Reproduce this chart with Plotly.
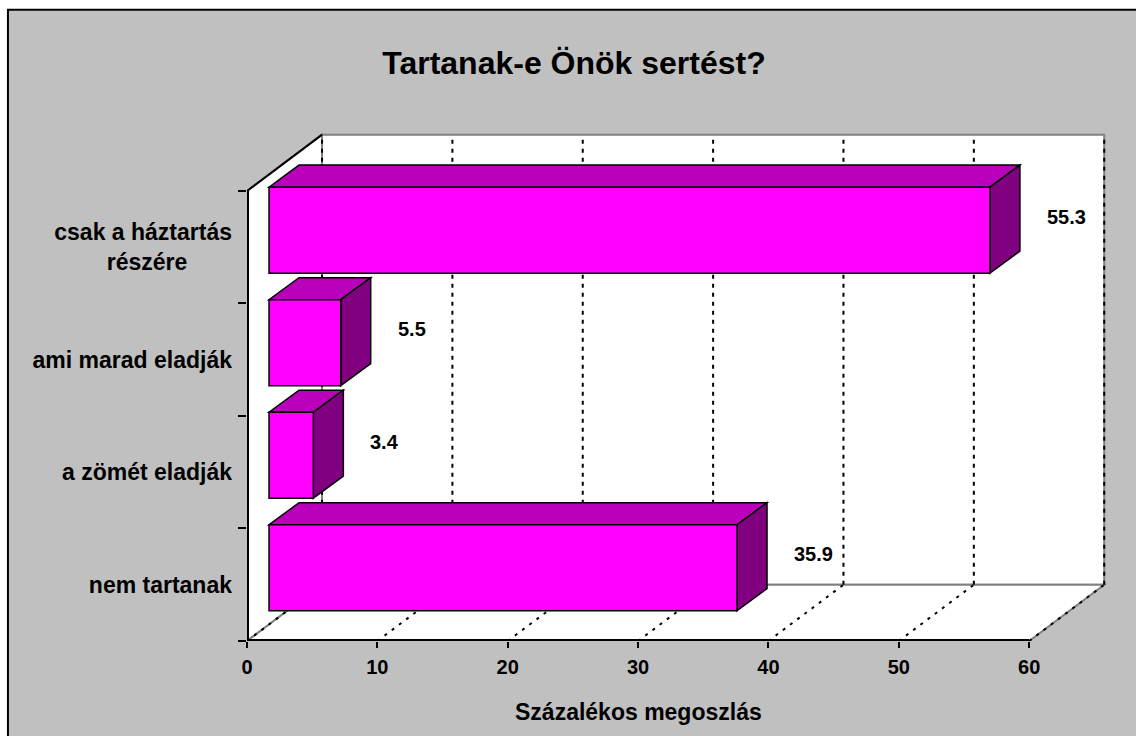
import plotly.graph_objects as go

# ---------------- data ----------------
categories = ["nem tartanak", "a zömét eladják", "ami marad eladják", "csak a háztartás részére"]
tick_labels = ["nem tartanak", "a zömét eladják", "ami marad eladják",
               "csak a háztartás<br>részére" + "\u00a0" * 7]
values = [35.9, 3.4, 5.5, 55.3]
x_ticks = [0, 10, 20, 30, 40, 50, 60]
title_text = "Tartanak-e Önök sertést?"
x_title = "Százalékos megoszlás"

# ---------------- pseudo-3D geometry (data units) ----------------
X_MAX = 60
WALL_DX, WALL_DY = 5.755, 0.5          # depth of the walls
BAR_BASE = 1.69                         # front face of bars sits forward of the wall
BAR_OFF, BAR_W = -0.231, 0.764          # bar position inside category band
BAR_DX, BAR_DY = 2.30, 0.196            # depth of the bar boxes
LABEL_GAP, LABEL_DY = 4.22, 0.27

X_RANGE = [0, 66.2]
Y_RANGE = [-0.5, 4.05]

# pixel layout
PX_X = 782 / 60.0
PX_Y = 112.5
L = 247
B = 95
W = (X_RANGE[1] - X_RANGE[0]) * PX_X
H = (Y_RANGE[1] - Y_RANGE[0]) * PX_Y
R = 1136 - L - W
T = 736 - B - H

def px2paper_x(p):
    return (p - L) / W

def px2paper_y(p):
    return (736 - B - p) / H

FONT = "Liberation Sans, Arial, sans-serif"
GRAY = "#808080"
n = len(categories)
y_pos = list(range(n))

shapes = []

# chart area background with border
shapes.append(dict(type="rect", xref="paper", yref="paper", layer="below",
                   x0=px2paper_x(8), x1=px2paper_x(1145), y0=px2paper_y(745), y1=px2paper_y(10),
                   fillcolor="#C0C0C0", line=dict(color="black", width=2)))

y_lo, y_hi = -0.5, n - 0.5

def path(pts):
    return "M " + " L ".join(f"{x},{y}" for x, y in pts) + " Z"

# back wall
shapes.append(dict(type="rect", xref="x", yref="y", layer="below",
                   x0=WALL_DX, x1=X_MAX + WALL_DX, y0=y_lo + WALL_DY, y1=y_hi + WALL_DY,
                   fillcolor="white", line=dict(color=GRAY, width=2)))
# left wall
shapes.append(dict(type="path", xref="x", yref="y", layer="below",
                   path=path([(0, y_lo), (0, y_hi), (WALL_DX, y_hi + WALL_DY), (WALL_DX, y_lo + WALL_DY)]),
                   fillcolor="white", line=dict(color=GRAY, width=2)))
# floor
shapes.append(dict(type="path", xref="x", yref="y", layer="below",
                   path=path([(0, y_lo), (X_MAX, y_lo), (X_MAX + WALL_DX, y_lo + WALL_DY), (WALL_DX, y_lo + WALL_DY)]),
                   fillcolor="white", line=dict(color=GRAY, width=2)))

# gridlines: back wall verticals and floor diagonals
for v in x_ticks:
    shapes.append(dict(type="line", xref="x", yref="y", layer="below",
                       x0=v + WALL_DX, x1=v + WALL_DX, y0=y_lo + WALL_DY, y1=y_hi + WALL_DY,
                       line=dict(color="black", width=2, dash="4px,5px")))
    shapes.append(dict(type="line", xref="x", yref="y", layer="below",
                       x0=v, x1=v + WALL_DX, y0=y_lo, y1=y_lo + WALL_DY,
                       line=dict(color="black", width=2, dash="3px,6px")))

# front axis lines
shapes.append(dict(type="line", xref="x", yref="y", layer="below",
                   x0=0, x1=X_MAX, y0=y_lo, y1=y_lo, line=dict(color="black", width=4)))
shapes.append(dict(type="line", xref="x", yref="y", layer="below",
                   x0=0, x1=0, y0=y_lo, y1=y_hi, line=dict(color="black", width=4)))
shapes.append(dict(type="line", xref="x", yref="y", layer="below",
                   x0=0, x1=WALL_DX, y0=y_hi, y1=y_hi + WALL_DY, line=dict(color="black", width=2)))

# bar top and side faces
for i, v in enumerate(values):
    lo = y_pos[i] + BAR_OFF
    hi = lo + BAR_W
    x0 = BAR_BASE
    x1 = BAR_BASE + v
    shapes.append(dict(type="path", xref="x", yref="y", layer="below",
                       path=path([(x0, hi), (x1, hi), (x1 + BAR_DX, hi + BAR_DY), (x0 + BAR_DX, hi + BAR_DY)]),
                       fillcolor="#BB00BB", line=dict(color="black", width=1.5)))
    shapes.append(dict(type="path", xref="x", yref="y", layer="below",
                       path=path([(x1, lo), (x1 + BAR_DX, lo + BAR_DY), (x1 + BAR_DX, hi + BAR_DY), (x1, hi)]),
                       fillcolor="#800080", line=dict(color="black", width=1.5)))

fig = go.Figure()
fig.add_trace(go.Bar(
    x=values, y=y_pos, orientation="h",
    base=[BAR_BASE] * n, offset=BAR_OFF, width=BAR_W,
    marker=dict(color="#FF00FF", line=dict(color="black", width=1.5)),
    hoverinfo="skip", showlegend=False,
))

annotations = []
for i, v in enumerate(values):
    annotations.append(dict(x=BAR_BASE + v + LABEL_GAP, y=y_pos[i] + LABEL_DY, xref="x", yref="y",
                            text=f"{v}", showarrow=False, xanchor="left", yanchor="middle",
                            font=dict(family=FONT, size=20, color="black", weight="bold")))
annotations.append(dict(x=X_MAX / 2, y=0, xref="x", yref="paper", yshift=-71,
                        text=x_title, showarrow=False, xanchor="center", yanchor="middle",
                        font=dict(family=FONT, size=23, color="black", weight="bold")))

fig.update_layout(
    width=1136, height=736,
    margin=dict(l=L, r=R, t=T, b=B, pad=0),
    paper_bgcolor="white",
    plot_bgcolor="rgba(0,0,0,0)",
    title=dict(text=title_text, x=574 / 1136, y=1 - 63 / 736, xref="container", yref="container",
               xanchor="center", yanchor="middle",
               font=dict(family=FONT, size=32, color="black", weight="bold")),
    shapes=shapes,
    annotations=annotations,
    showlegend=False,
    xaxis=dict(range=X_RANGE, tickvals=x_ticks, ticks="outside", ticklen=6, tickwidth=2,
               tickcolor="black", showgrid=False, zeroline=False, showline=False,
               automargin=False, fixedrange=True, ticklabelstandoff=2,
               tickfont=dict(family=FONT, size=20, color="black", weight="bold")),
    yaxis=dict(range=Y_RANGE, tickvals=y_pos, ticktext=tick_labels, ticks="",
               minor=dict(tickvals=[-0.5 + k for k in range(n + 1)], ticks="outside", ticklen=8,
                          tickwidth=2, tickcolor="black", showgrid=False),
               ticklabelstandoff=14,
               showgrid=False, zeroline=False, showline=False, automargin=False, fixedrange=True,
               tickfont=dict(family=FONT, size=23, color="black", weight="bold")),
)

fig.write_html("out.html", config={"displayModeBar": False, "staticPlot": True},
               post_script="document.body.style.margin='0px';document.body.style.overflow='hidden';")
